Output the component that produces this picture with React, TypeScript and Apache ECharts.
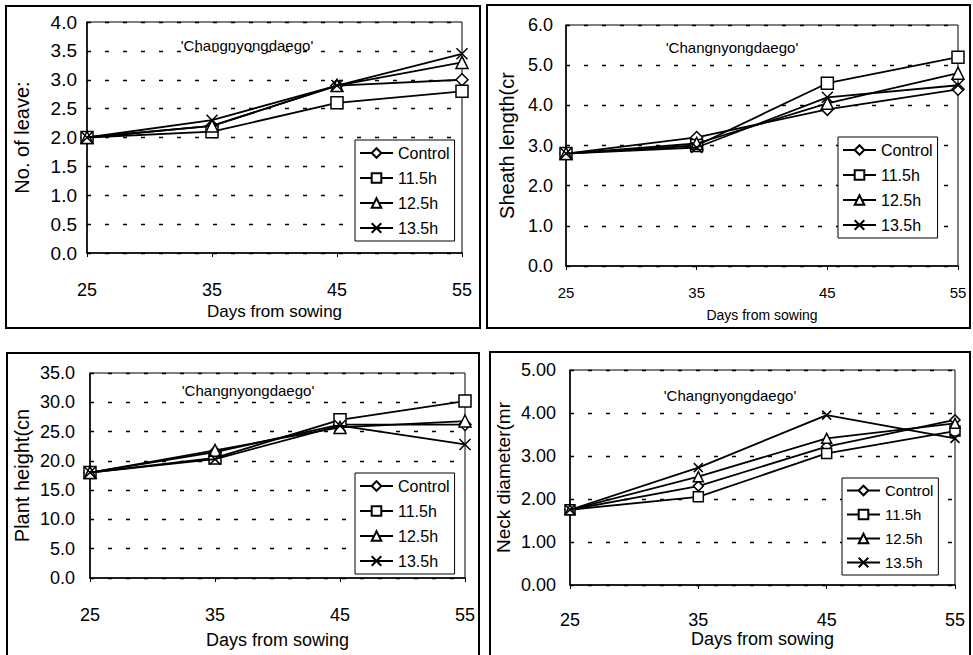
import React, { useEffect, useRef } from "react";
import * as echarts from "echarts";

const days = ["25", "35", "45", "55"];
const seriesNames = ["Control", "11.5h", "12.5h", "13.5h"];
const cultivarLabel = "'Changnyongdaego'";
const xTitle = "Days from sowing";

// Panel 1: number of leaves
const leafControl = [2.0, 2.2, 2.9, 3.0];
const leaf115 = [2.0, 2.1, 2.6, 2.8];
const leaf125 = [2.0, 2.2, 2.9, 3.3];
const leaf135 = [2.0, 2.3, 2.9, 3.45];

// Panel 2: sheath length
const sheathControl = [2.8, 3.2, 3.9, 4.4];
const sheath115 = [2.8, 3.0, 4.55, 5.2];
const sheath125 = [2.8, 3.05, 4.05, 4.8];
const sheath135 = [2.8, 2.95, 4.2, 4.5];

// Panel 3: plant height
const heightControl = [18.0, 21.5, 26.2, 26.2];
const height115 = [18.0, 20.5, 27.0, 30.2];
const height125 = [18.0, 21.8, 25.7, 26.8];
const height135 = [18.0, 20.3, 26.0, 22.8];

// Panel 4: neck diameter
const neckControl = [1.75, 2.3, 3.22, 3.84];
const neck115 = [1.75, 2.05, 3.06, 3.58];
const neck125 = [1.75, 2.52, 3.41, 3.76];
const neck135 = [1.75, 2.73, 3.95, 3.41];

const FONT = "'Liberation Sans', Arial, sans-serif";
const NARROW = "'Liberation Sans Narrow', 'Liberation Sans', Arial, sans-serif";

const symbols = ["diamond", "rect", "triangle", "path://M0,0L10,10M10,0L0,10"];

type Panel = {
  yName: string;
  max: number;
  interval: number;
  decimals: number;
  data: number[][];
  grid: { left: number; top: number; width: number; height: number };
  box: { x: number; y: number; w: number; h: number };
  legend: { left: number; top: number };
  label: { x: number; y: number; size: number };
  yLabelSize: number;
  yLabelMargin: number;
  xLabelSize: number;
  xLabelMargin: number;
  xNameSize: number;
  xNameGap: number;
  yNameSize: number;
  yNameGap: number;
  legendFont: number;
  symbolSize: number;
};

const panels: Panel[] = [
  {
    yName: "No. of leave:",
    max: 4,
    interval: 0.5,
    decimals: 1,
    data: [leafControl, leaf115, leaf125, leaf135],
    grid: { left: 87, top: 22, width: 375, height: 231 },
    box: { x: 6, y: 6, w: 474, h: 322 },
    legend: { left: 355, top: 140 },
    label: { x: 247, y: 45, size: 15 },
    yLabelSize: 19,
    yLabelMargin: 10,
    xLabelSize: 18,
    xLabelMargin: 28,
    xNameSize: 17,
    xNameGap: 50,
    yNameSize: 20,
    yNameGap: 55,
    legendFont: 16,
    symbolSize: 12,
  },
  {
    yName: "Sheath length(cr",
    max: 6,
    interval: 1,
    decimals: 1,
    data: [sheathControl, sheath115, sheath125, sheath135],
    grid: { left: 566, top: 25, width: 392, height: 241 },
    box: { x: 487, y: 5, w: 483, h: 323 },
    legend: { left: 838, top: 137 },
    label: { x: 732, y: 47, size: 15 },
    yLabelSize: 18,
    yLabelMargin: 13,
    xLabelSize: 15,
    xLabelMargin: 19,
    xNameSize: 14,
    xNameGap: 42,
    yNameSize: 20,
    yNameGap: 49,
    legendFont: 16,
    symbolSize: 12,
  },
  {
    yName: "Plant height(cn",
    max: 35,
    interval: 5,
    decimals: 1,
    data: [heightControl, height115, height125, height135],
    grid: { left: 90, top: 373, width: 375, height: 205 },
    box: { x: 7, y: 353, w: 472, h: 310 },
    legend: { left: 355, top: 473 },
    label: { x: 248, y: 390, size: 15 },
    yLabelSize: 18,
    yLabelMargin: 15,
    xLabelSize: 18,
    xLabelMargin: 28,
    xNameSize: 18,
    xNameGap: 53,
    yNameSize: 20,
    yNameGap: 58,
    legendFont: 16,
    symbolSize: 12,
  },
  {
    yName: "Neck diameter(mr",
    max: 5,
    interval: 1,
    decimals: 2,
    data: [neckControl, neck115, neck125, neck135],
    grid: { left: 570, top: 370, width: 385, height: 215 },
    box: { x: 490, y: 352, w: 480, h: 311 },
    legend: { left: 842, top: 478 },
    label: { x: 730, y: 395, size: 15 },
    yLabelSize: 18,
    yLabelMargin: 14,
    xLabelSize: 18,
    xLabelMargin: 26,
    xNameSize: 18,
    xNameGap: 44,
    yNameSize: 19,
    yNameGap: 57,
    legendFont: 15,
    symbolSize: 10,
  },
];

export default function App() {
  const ref = useRef<HTMLDivElement>(null);

  useEffect(() => {
    if (!ref.current) return;
    const chart = echarts.init(ref.current, undefined, { renderer: "svg" });

    const grids: any[] = [];
    const xAxes: any[] = [];
    const yAxes: any[] = [];
    const legends: any[] = [];
    const series: any[] = [];
    const graphics: any[] = [];

    panels.forEach((p, i) => {
      grids.push({
        left: p.grid.left,
        top: p.grid.top,
        width: p.grid.width,
        height: p.grid.height,
        show: true,
        borderColor: "#000",
        borderWidth: 1,
        backgroundColor: "transparent",
      });
      xAxes.push({
        type: "category",
        gridIndex: i,
        data: days,
        boundaryGap: false,
        name: xTitle,
        nameLocation: "middle",
        nameGap: p.xNameGap,
        nameTextStyle: { fontFamily: FONT, fontSize: p.xNameSize, color: "#000" },
        axisLine: { lineStyle: { color: "#000", width: 1.5 } },
        axisTick: { show: true, length: 4, alignWithLabel: true, lineStyle: { color: "#000" } },
        axisLabel: { fontFamily: FONT, fontSize: p.xLabelSize, color: "#000", margin: p.xLabelMargin },
        splitLine: { show: false },
      });
      yAxes.push({
        type: "value",
        gridIndex: i,
        min: 0,
        max: p.max,
        interval: p.interval,
        name: p.yName,
        nameLocation: "middle",
        nameGap: p.yNameGap,
        nameTextStyle: { fontFamily: FONT, fontSize: p.yNameSize, color: "#000" },
        axisLine: { show: true, lineStyle: { color: "#000", width: 1.5 } },
        axisTick: { show: false },
        axisLabel: {
          fontFamily: FONT,
          fontSize: p.yLabelSize,
          color: "#000",
          margin: p.yLabelMargin,
          formatter: (v: number) => v.toFixed(p.decimals),
        },
        splitLine: { show: true, lineStyle: { color: "#000", type: [4, 14], width: 1.3 } },
      });
      legends.push({
        orient: "vertical",
        left: p.legend.left,
        top: p.legend.top,
        data: seriesNames,
        itemWidth: 33,
        itemHeight: 12,
        itemGap: 9,
        padding: [5, 5, 5, 4],
        borderColor: "#000",
        borderWidth: 1,
        backgroundColor: "#fff",
        selectedMode: false,
        textStyle: { fontFamily: NARROW, fontSize: p.legendFont, color: "#000" },
      });
      p.data.forEach((vals, k) => {
        series.push({
          type: "line",
          name: seriesNames[k],
          xAxisIndex: i,
          yAxisIndex: i,
          data: vals,
          symbol: symbols[k],
          symbolSize: k === 3 ? p.symbolSize - 1 : p.symbolSize,
          showSymbol: true,
          lineStyle: { color: "#000", width: 1.8 },
          itemStyle: { color: k === 3 ? "#000" : "#fff", borderColor: "#000", borderWidth: 1.5 },
          z: 3 + k,
        });
      });
      graphics.push({
        type: "rect",
        shape: { x: p.box.x, y: p.box.y, width: p.box.w, height: p.box.h },
        style: { fill: "none", stroke: "#000", lineWidth: 2 },
        silent: true,
      });
      graphics.push({
        type: "text",
        x: p.label.x,
        y: p.label.y,
        style: {
          text: cultivarLabel,
          fontFamily: NARROW,
          fontSize: p.label.size,
          fill: "#000",
          textAlign: "center",
          textVerticalAlign: "middle",
        },
        silent: true,
      });
    });

    chart.setOption({
      animation: false,
      backgroundColor: "#fff",
      grid: grids,
      xAxis: xAxes,
      yAxis: yAxes,
      legend: legends,
      series,
      graphic: graphics,
    });

    return () => chart.dispose();
  }, []);

  return (
    <div
      ref={ref}
      style={{ position: "absolute", left: 0, top: 0, width: 973, height: 655 }}
    />
  );
}
